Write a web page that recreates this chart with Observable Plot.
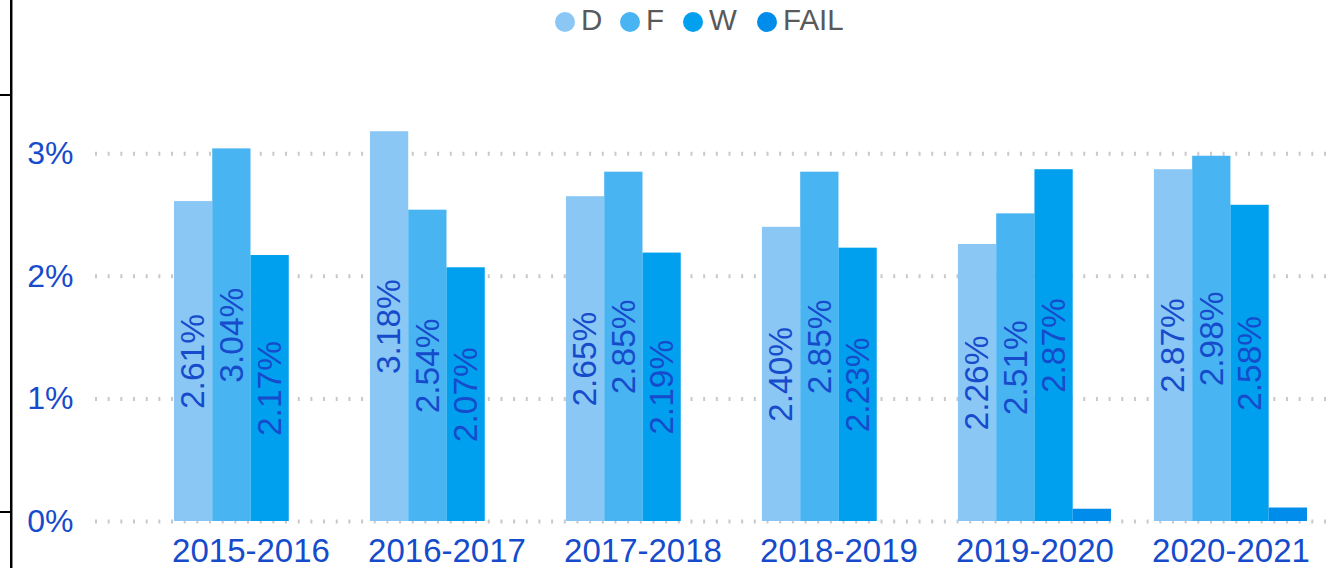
<!DOCTYPE html>
<html>
<head>
<meta charset="utf-8">
<script src="https://cdn.jsdelivr.net/npm/d3@7"></script>
<script src="https://cdn.jsdelivr.net/npm/@observablehq/plot@0.6"></script>
<style>
  html, body { margin: 0; padding: 0; background: #fff; }
  body { width: 1339px; height: 568px; position: relative; overflow: hidden; font-family: "Liberation Sans", Arial, sans-serif; }
  #legend { height: 40px; position: relative; }
  .item { position: absolute; top: 0; height: 40px; display: flex; align-items: center; color: #595959; font-size: 29.5px; }
  .dot { width: 20px; height: 20px; border-radius: 50%; margin-right: 6px; margin-top: 4px; }
  #chart { position: relative; width: 1339px; height: 528px; }
  #chart svg { display: block; position: absolute; left: 0; top: 0; overflow: visible; }
  .bl { position: absolute; background: #000; }
</style>
</head>
<body>
<div id="legend"></div>
<div id="chart"></div>
<div class="bl" style="left:10px;top:0;width:2px;height:568px;"></div>
<div class="bl" style="left:12px;top:0;width:1px;height:568px;background:#888;"></div>
<div class="bl" style="left:0;top:94px;width:11px;height:2px;"></div>
<div class="bl" style="left:0;top:511px;width:11px;height:2px;"></div>
<script>
const years = ["2015-2016", "2016-2017", "2017-2018", "2018-2019", "2019-2020", "2020-2021"];
const series = ["D", "F", "W", "FAIL"];
const valuesD = [2.61, 3.18, 2.65, 2.40, 2.26, 2.87];
const valuesF = [3.04, 2.54, 2.85, 2.85, 2.51, 2.98];
const valuesW = [2.17, 2.07, 2.19, 2.23, 2.87, 2.58];
const valuesFAIL = [0, 0, 0, 0, 0.10, 0.11];
const colors = ["#8AC7F5", "#49B4F2", "#00A0EE", "#008CEB"];
const yTicks = [0, 1, 2, 3];

const seriesValues = [valuesD, valuesF, valuesW, valuesFAIL];
const rows = [];
years.forEach((yr, i) => {
  series.forEach((s, j) => rows.push({year: yr, series: s, value: seriesValues[j][i]}));
});

// Legend
const legend = document.getElementById("legend");
const legendLeft = [555, 620, 683, 757];
series.forEach((s, j) => {
  const it = document.createElement("div");
  it.className = "item";
  it.style.left = legendLeft[j] + "px";
  const dot = document.createElement("span");
  dot.className = "dot";
  dot.style.background = colors[j];
  const t = document.createElement("span");
  t.textContent = s;
  it.appendChild(dot); it.appendChild(t);
  legend.appendChild(it);
});

const blue = "#164BCC";
const common = {
  width: 1339,
  height: 528,
  marginLeft: 95,
  marginRight: 4,
  marginTop: 52,
  marginBottom: 47,
  style: {fontFamily: "'Liberation Sans', Arial, sans-serif", fontSize: "32px", color: blue, background: "transparent"},
  y: {domain: [0, 3.5], axis: null}
};

// Background layer: dotted grid and y axis labels
const gridPlot = Plot.plot({
  ...common,
  marks: [
    Plot.ruleY(yTicks, {y: d => d, stroke: "#c9c9c9", strokeWidth: 4, strokeDasharray: "2,10.67"}),
    Plot.axisY(yTicks, {tickSize: 0, tickPadding: 22, tickFormat: d => d + "%", fill: blue, label: null})
  ]
});

// Foreground layer: grouped bars
const barPlot = Plot.plot({
  ...common,
  fx: {domain: years, paddingInner: 0.219, paddingOuter: 0.273, align: 0.738, round: false, axis: null, label: null},
  x: {domain: series, padding: 0, round: false, axis: null},
  color: {domain: series, range: colors},
  marks: [
    Plot.barY(rows, {fx: "year", x: "series", y: "value", fill: "series", inset: 0}),
    Plot.axisFx({anchor: "bottom", tickSize: 0, tickPadding: 17, fontSize: 33, fill: blue, label: null}),
    Plot.text(rows.filter(d => d.series !== "FAIL" && d.value > 0), {
      fx: "year", x: "series", y: d => d.value / 2,
      text: d => d.value.toFixed(2) + "%", rotate: -90, fill: blue, fontSize: 33.5
    })
  ]
});
const c = document.getElementById("chart");
c.appendChild(gridPlot);
c.appendChild(barPlot);
</script>
</body>
</html>
